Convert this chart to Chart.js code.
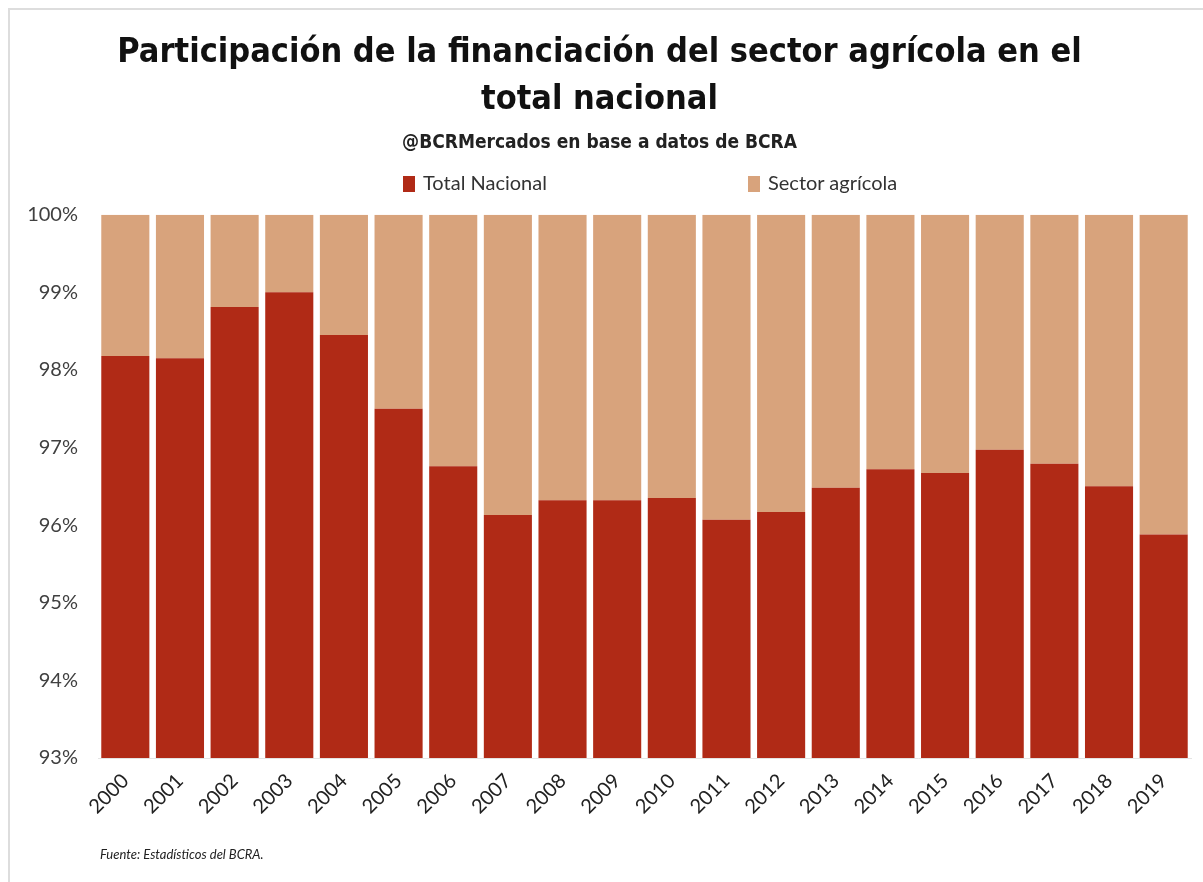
<!DOCTYPE html>
<html>
<head>
<meta charset="utf-8">
<script src="https://cdn.jsdelivr.net/npm/chart.js@4"></script>
<style>
    body { margin: 0; background: #fff; }
    #wrap { position: relative; width: 1203px; height: 882px; }
    #frame { position: absolute; left: 8px; top: 8px; width: 1195px; height: 874px; border-left: 2px solid #ddd; border-top: 2px solid #ddd; box-sizing: border-box; }
    #source { position: absolute; left: 100px; top: 846px; font: italic 13px Lato, sans-serif; color: #222; }
    .legend-item { position: absolute; top: 170px; font: 20px Lato, sans-serif; color: #333; line-height: 24px; }
    .legend-item span { display: inline-block; width: 12px; height: 16px; margin-right: 8px; vertical-align: -2px; }
</style>
</head>
<body>
<div id="wrap">
    <div id="frame"></div>
    <canvas id="chart" width="1203" height="882"></canvas>
    <div id="legend"></div>
    <div id="source">Fuente: Estadísticos del BCRA.</div>
</div>
<script>
const years = ['2000', '2001', '2002', '2003', '2004', '2005', '2006', '2007', '2008', '2009',
    '2010', '2011', '2012', '2013', '2014', '2015', '2016', '2017', '2018', '2019']
// share of total national financing (%)
const totalNacional = [98.18, 98.15, 98.81, 99.0, 98.45, 97.5, 96.76, 96.13, 96.32, 96.32,
    96.35, 96.07, 96.17, 96.48, 96.72, 96.67, 96.97, 96.79, 96.5, 95.88]
const sectorAgricola = totalNacional.map(v => 100 - v)
const yTicks = [93, 94, 95, 96, 97, 98, 99, 100]

const red = '#b02a16'
const tan = '#d8a37c'
const narrow = '"DejaVu Sans Condensed", sans-serif'

const ctx = document.getElementById('chart').getContext('2d')
const chart = new Chart(ctx, {
    type: 'bar',
    data: {
        labels: years,
        datasets: [
            { label: 'Total Nacional', data: totalNacional, backgroundColor: red },
            { label: 'Sector agrícola', data: sectorAgricola, backgroundColor: tan },
        ]
    },
    options: {
        responsive: false,
        animation: false,
        layout: { padding: { left: 8, right: 12, top: 0, bottom: 40 } },
        datasets: { bar: { barPercentage: 0.88, categoryPercentage: 1 } },
        plugins: {
            title: {
                display: true,
                text: ['Participación de la financiación del sector agrícola en el', 'total nacional'],
                color: '#111',
                font: { family: narrow, size: 34, weight: 'bold', lineHeight: 1.38 },
                padding: { top: 30, bottom: 8 }
            },
            subtitle: {
                display: true,
                text: '@BCRMercados en base a datos de BCRA',
                color: '#222',
                font: { family: narrow, size: 19, weight: 'bold' },
                padding: { top: 0, bottom: 60 }
            },
            legend: { display: false },
            tooltip: { enabled: false }
        },
        scales: {
            x: {
                stacked: true,
                grid: { display: false },
                border: { color: '#e4e4e4' },
                ticks: {
                    color: '#222',
                    font: { family: 'Lato, sans-serif', size: 20 },
                    maxRotation: 45,
                    minRotation: 45
                },
                afterFit: scale => { scale.height = 84 }
            },
            y: {
                stacked: true,
                min: 93,
                max: 100,
                grid: { display: false },
                border: { display: false },
                afterBuildTicks: scale => { scale.ticks = yTicks.map(v => ({ value: v })) },
                ticks: {
                    color: '#404040',
                    font: { family: 'Lato, sans-serif', size: 20 },
                    callback: v => v + '%',
                    padding: 12
                },
                afterFit: scale => { scale.width = 90 }
            }
        }
    }
})

// html legend, spaced like the original
const legendLeft = [403, 748]
chart.data.datasets.forEach((ds, i) => {
    const item = document.createElement('div')
    item.className = 'legend-item'
    item.style.left = legendLeft[i] + 'px'
    item.innerHTML = `<span style="background:${ds.backgroundColor}"></span>${ds.label}`
    document.getElementById('legend').appendChild(item)
})
</script>
</body>
</html>
